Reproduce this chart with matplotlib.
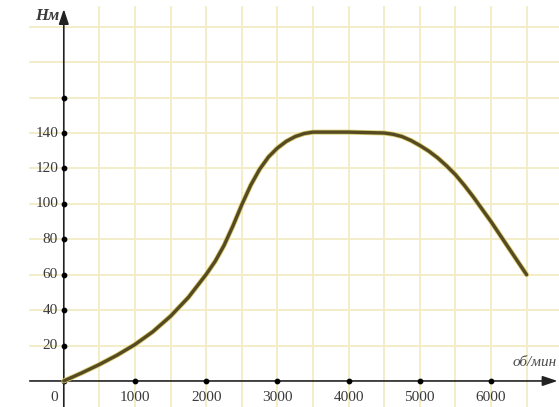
import matplotlib
matplotlib.use("Agg")
import matplotlib.pyplot as plt

# Data
rpm = [0, 250, 500, 750, 1000, 1250, 1500, 1750, 2000, 2125, 2250, 2375,
       2500, 2625, 2750, 2875, 3000, 3125, 3250, 3375, 3500, 4000, 4500,
       4625, 4750, 4875, 5000, 5125, 5250, 5375, 5500, 5625, 5750, 5875,
       6000, 6125, 6250, 6375, 6500]
torque = [0, 4.5, 9.3, 14.6, 20.6, 27.8, 36.6, 47.2, 60.2, 67.5, 76.5, 87.5,
          99.5, 110.5, 119.5, 126.5, 131.5, 135.3, 138, 139.7, 140.5, 140.5, 140,
          139.3, 138, 135.8, 133, 129.8, 126, 121.5, 116.5, 110.5, 104, 97,
          90, 82.5, 75, 67.5, 60]

x_ticks = [1000, 2000, 3000, 4000, 5000, 6000]
y_ticks = [20, 40, 60, 80, 100, 120, 140]
y_dot_only = [160]
x_grid = [500, 1000, 1500, 2000, 2500, 3000, 3500, 4000, 4500, 5000, 5500, 6000, 6500]
y_grid = [20, 40, 60, 80, 100, 120, 140, 160, 180, 200]
y_label = "Нм"
x_label = "об/мин"

W, H = 559, 407
fig = plt.figure(figsize=(W / 100, H / 100), dpi=100)
ax = fig.add_axes([0, 0, 1, 1])
ax.set_xlim(-896, 6955)
ax.set_ylim(-14.7, 215.1)
for s in ax.spines.values():
    s.set_visible(False)
ax.set_xticks([])
ax.set_yticks([])

grid_c = "#f2edc4"
for g in y_grid:
    ax.plot([-478, 6955], [g, g], color=grid_c, lw=1.3, zorder=1)
for g in x_grid:
    ax.plot([g, g], [-14.7, 211], color=grid_c, lw=1.3, zorder=1)

# axes with arrows
ax.annotate("", xy=(6935, 0), xytext=(-478, 0),
            arrowprops=dict(arrowstyle="-|>,head_length=0.9,head_width=0.3",
                            color="#222222", lw=1.2, shrinkA=0, shrinkB=0), zorder=3)
ax.annotate("", xy=(0, 210), xytext=(0, -14.7),
            arrowprops=dict(arrowstyle="-|>,head_length=0.9,head_width=0.3",
                            color="#222222", lw=1.2, shrinkA=0, shrinkB=0), zorder=3)

# tick dots
ax.scatter(x_ticks, [0] * len(x_ticks), s=10, color="black", zorder=4)
ax.scatter([0] * (len(y_ticks) + len(y_dot_only)), y_ticks + y_dot_only, s=10, color="black", zorder=4)
ax.scatter([0], [0], s=10, color="black", zorder=4)

font = dict(family="Liberation Serif", size=11, color="#3a3a3a")
for t in x_ticks:
    ax.text(t, -5.5, str(t), ha="center", va="top", **font)
for t in y_ticks:
    ax.text(-80, t, str(t), ha="right", va="center", **font)
ax.text(-80, -5.5, "0", ha="right", va="top", **font)

ax.text(-60, 206, y_label, ha="right", va="center", family="Liberation Serif",
        size=12, style="italic", fontweight="bold", color="#3a3a3a")
ax.text(6930, 7, x_label, ha="right", va="bottom", family="Liberation Serif",
        size=11, style="italic", color="#4a4a4a")

# curve
ax.plot(rpm, torque, color="#d8cc70", lw=3.6, solid_capstyle="round",
        solid_joinstyle="round", zorder=5)
ax.plot(rpm, torque, color="#564a22", lw=2.4, solid_capstyle="round",
        solid_joinstyle="round", zorder=6)

fig.savefig("out.png", dpi=100)
